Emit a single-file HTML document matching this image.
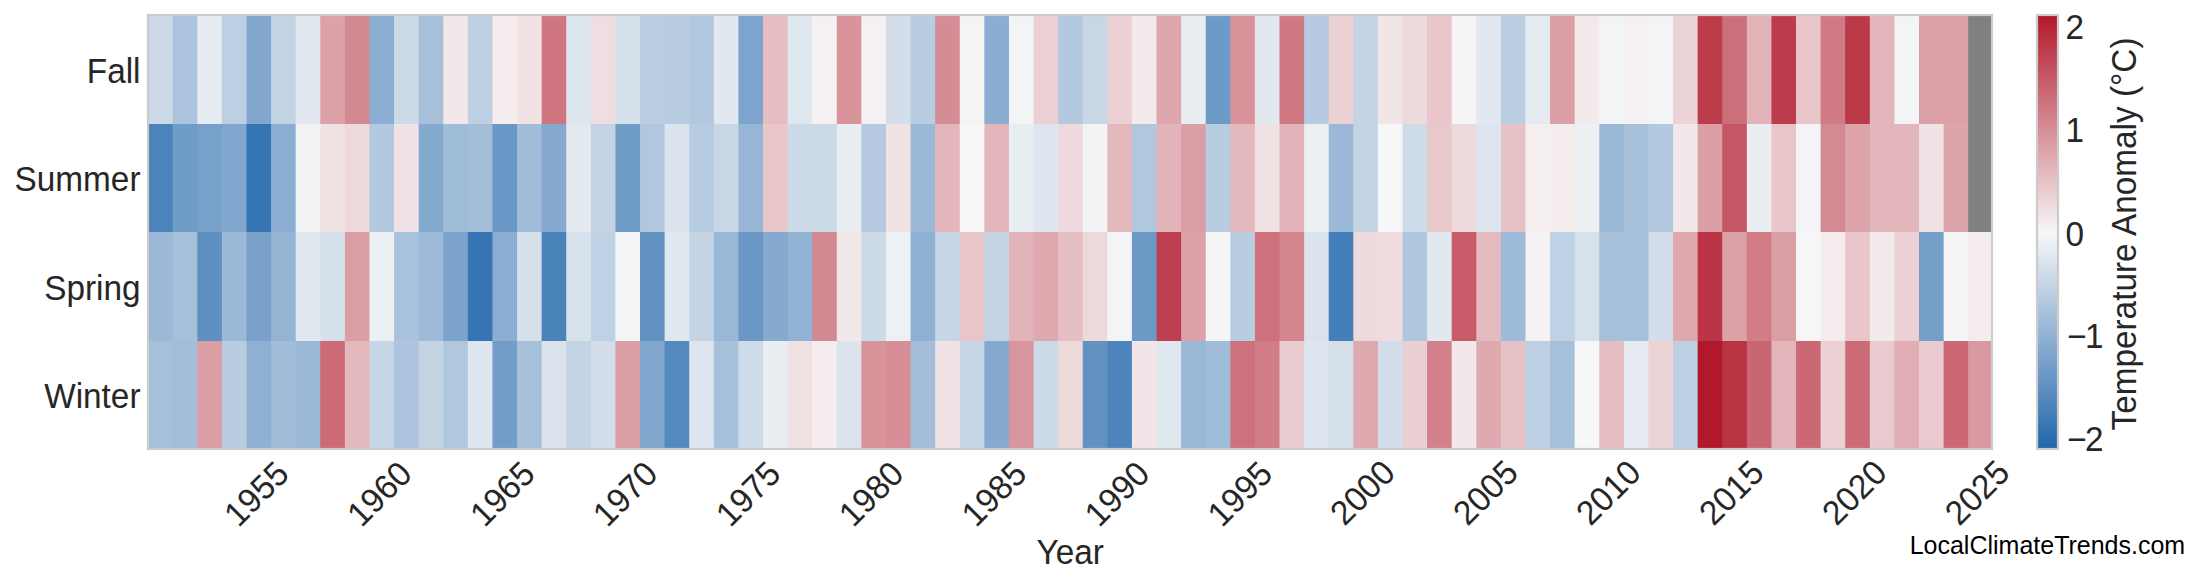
<!DOCTYPE html>
<html lang="en"><head><meta charset="utf-8"><title>Seasonal Temperature Anomaly Heatmap</title>
<style>html,body{margin:0;padding:0;background:#fff;}body{width:2200px;height:585px;overflow:hidden;}svg{display:block;}text{font-family:"Liberation Sans",Arial,sans-serif;font-size:33.33px;fill:#262626;}</style></head><body>
<svg width="2200" height="585" viewBox="0 0 2200 585">
<rect x="0" y="0" width="2200" height="585" fill="#ffffff"/>
<defs><linearGradient id="cb" x1="0" y1="0" x2="0" y2="1"><stop offset="0" stop-color="#b2182b"/><stop offset="0.503" stop-color="#f7f7f7"/><stop offset="1" stop-color="#2166ac"/></linearGradient></defs>
<g>
<rect x="148.10" y="15.00" width="25.60" height="110.00" fill="#ccdae8"/>
<rect x="172.70" y="15.00" width="25.60" height="110.00" fill="#acc4dd"/>
<rect x="197.29" y="15.00" width="25.60" height="110.00" fill="#e6ebf1"/>
<rect x="221.89" y="15.00" width="25.60" height="110.00" fill="#bdd0e3"/>
<rect x="246.48" y="15.00" width="25.60" height="110.00" fill="#81a7ce"/>
<rect x="271.08" y="15.00" width="25.60" height="110.00" fill="#c2d3e4"/>
<rect x="295.68" y="15.00" width="25.60" height="110.00" fill="#e2e8f0"/>
<rect x="320.27" y="15.00" width="25.60" height="110.00" fill="#dda2a9"/>
<rect x="344.87" y="15.00" width="25.60" height="110.00" fill="#d48891"/>
<rect x="369.46" y="15.00" width="25.60" height="110.00" fill="#8caed2"/>
<rect x="394.06" y="15.00" width="25.60" height="110.00" fill="#ccdae8"/>
<rect x="418.66" y="15.00" width="25.60" height="110.00" fill="#a6c0da"/>
<rect x="443.25" y="15.00" width="25.60" height="110.00" fill="#f2e7e9"/>
<rect x="467.85" y="15.00" width="25.60" height="110.00" fill="#bdd0e3"/>
<rect x="492.44" y="15.00" width="25.60" height="110.00" fill="#f4eced"/>
<rect x="517.04" y="15.00" width="25.60" height="110.00" fill="#f1e3e5"/>
<rect x="541.64" y="15.00" width="25.60" height="110.00" fill="#cf7681"/>
<rect x="566.23" y="15.00" width="25.60" height="110.00" fill="#dde6ee"/>
<rect x="590.83" y="15.00" width="25.60" height="110.00" fill="#efdee1"/>
<rect x="615.42" y="15.00" width="25.60" height="110.00" fill="#d5e0eb"/>
<rect x="640.02" y="15.00" width="25.60" height="110.00" fill="#bbcee2"/>
<rect x="664.62" y="15.00" width="25.60" height="110.00" fill="#b7cce0"/>
<rect x="689.21" y="15.00" width="25.60" height="110.00" fill="#b0c7de"/>
<rect x="713.81" y="15.00" width="25.60" height="110.00" fill="#e2e8f0"/>
<rect x="738.40" y="15.00" width="25.60" height="110.00" fill="#7da4cc"/>
<rect x="763.00" y="15.00" width="25.60" height="110.00" fill="#e5bdc2"/>
<rect x="787.60" y="15.00" width="25.60" height="110.00" fill="#dfe7ef"/>
<rect x="812.19" y="15.00" width="25.60" height="110.00" fill="#f5f0f1"/>
<rect x="836.79" y="15.00" width="25.60" height="110.00" fill="#d8939b"/>
<rect x="861.38" y="15.00" width="25.60" height="110.00" fill="#f5f0f1"/>
<rect x="885.98" y="15.00" width="25.60" height="110.00" fill="#d3deea"/>
<rect x="910.58" y="15.00" width="25.60" height="110.00" fill="#b9cde1"/>
<rect x="935.17" y="15.00" width="25.60" height="110.00" fill="#d68c95"/>
<rect x="959.77" y="15.00" width="25.60" height="110.00" fill="#f6f3f3"/>
<rect x="984.36" y="15.00" width="25.60" height="110.00" fill="#8aadd1"/>
<rect x="1008.96" y="15.00" width="25.60" height="110.00" fill="#f3f4f6"/>
<rect x="1033.56" y="15.00" width="25.60" height="110.00" fill="#ebd1d4"/>
<rect x="1058.15" y="15.00" width="25.60" height="110.00" fill="#b3c9df"/>
<rect x="1082.75" y="15.00" width="25.60" height="110.00" fill="#c8d7e6"/>
<rect x="1107.34" y="15.00" width="25.60" height="110.00" fill="#ebd1d4"/>
<rect x="1131.94" y="15.00" width="25.60" height="110.00" fill="#f3eaeb"/>
<rect x="1156.54" y="15.00" width="25.60" height="110.00" fill="#dea7ae"/>
<rect x="1181.13" y="15.00" width="25.60" height="110.00" fill="#e8edf2"/>
<rect x="1205.73" y="15.00" width="25.60" height="110.00" fill="#6e9ac7"/>
<rect x="1230.32" y="15.00" width="25.60" height="110.00" fill="#d8939b"/>
<rect x="1254.92" y="15.00" width="25.60" height="110.00" fill="#e2e8f0"/>
<rect x="1279.52" y="15.00" width="25.60" height="110.00" fill="#d07883"/>
<rect x="1304.11" y="15.00" width="25.60" height="110.00" fill="#b5cae0"/>
<rect x="1328.71" y="15.00" width="25.60" height="110.00" fill="#ebd1d4"/>
<rect x="1353.30" y="15.00" width="25.60" height="110.00" fill="#c4d4e5"/>
<rect x="1377.90" y="15.00" width="25.60" height="110.00" fill="#f1e5e7"/>
<rect x="1402.50" y="15.00" width="25.60" height="110.00" fill="#eedadc"/>
<rect x="1427.09" y="15.00" width="25.60" height="110.00" fill="#e8c6ca"/>
<rect x="1451.69" y="15.00" width="25.60" height="110.00" fill="#f6f5f5"/>
<rect x="1476.28" y="15.00" width="25.60" height="110.00" fill="#e2e8f0"/>
<rect x="1500.88" y="15.00" width="25.60" height="110.00" fill="#bbcee2"/>
<rect x="1525.48" y="15.00" width="25.60" height="110.00" fill="#e6ebf1"/>
<rect x="1550.07" y="15.00" width="25.60" height="110.00" fill="#db9ea5"/>
<rect x="1574.67" y="15.00" width="25.60" height="110.00" fill="#f3eaeb"/>
<rect x="1599.26" y="15.00" width="25.60" height="110.00" fill="#f3f4f6"/>
<rect x="1623.86" y="15.00" width="25.60" height="110.00" fill="#f5f0f1"/>
<rect x="1648.46" y="15.00" width="25.60" height="110.00" fill="#f3f4f6"/>
<rect x="1673.05" y="15.00" width="25.60" height="110.00" fill="#ecd3d6"/>
<rect x="1697.65" y="15.00" width="25.60" height="110.00" fill="#bd3c4c"/>
<rect x="1722.24" y="15.00" width="25.60" height="110.00" fill="#cd6f7b"/>
<rect x="1746.84" y="15.00" width="25.60" height="110.00" fill="#e2b4ba"/>
<rect x="1771.44" y="15.00" width="25.60" height="110.00" fill="#bd3c4c"/>
<rect x="1796.03" y="15.00" width="25.60" height="110.00" fill="#e8c6ca"/>
<rect x="1820.63" y="15.00" width="25.60" height="110.00" fill="#d07a85"/>
<rect x="1845.22" y="15.00" width="25.60" height="110.00" fill="#bc394a"/>
<rect x="1869.82" y="15.00" width="25.60" height="110.00" fill="#e3b6bc"/>
<rect x="1894.42" y="15.00" width="25.60" height="110.00" fill="#f3f4f6"/>
<rect x="1919.01" y="15.00" width="25.60" height="110.00" fill="#dca0a7"/>
<rect x="1943.61" y="15.00" width="25.60" height="110.00" fill="#dca0a7"/>
<rect x="1968.20" y="15.00" width="24.60" height="110.00" fill="#808080"/>
<rect x="148.10" y="124.00" width="25.60" height="109.00" fill="#4c83bb"/>
<rect x="172.70" y="124.00" width="25.60" height="109.00" fill="#709cc8"/>
<rect x="197.29" y="124.00" width="25.60" height="109.00" fill="#77a0ca"/>
<rect x="221.89" y="124.00" width="25.60" height="109.00" fill="#81a7ce"/>
<rect x="246.48" y="124.00" width="25.60" height="109.00" fill="#3674b4"/>
<rect x="271.08" y="124.00" width="25.60" height="109.00" fill="#8caed2"/>
<rect x="295.68" y="124.00" width="25.60" height="109.00" fill="#f1f3f5"/>
<rect x="320.27" y="124.00" width="25.60" height="109.00" fill="#f0e1e3"/>
<rect x="344.87" y="124.00" width="25.60" height="109.00" fill="#edd8da"/>
<rect x="369.46" y="124.00" width="25.60" height="109.00" fill="#b3c9df"/>
<rect x="394.06" y="124.00" width="25.60" height="109.00" fill="#f1e3e5"/>
<rect x="418.66" y="124.00" width="25.60" height="109.00" fill="#83a9ce"/>
<rect x="443.25" y="124.00" width="25.60" height="109.00" fill="#9fbcd8"/>
<rect x="467.85" y="124.00" width="25.60" height="109.00" fill="#a4beda"/>
<rect x="492.44" y="124.00" width="25.60" height="109.00" fill="#6a97c6"/>
<rect x="517.04" y="124.00" width="25.60" height="109.00" fill="#a1bdd9"/>
<rect x="541.64" y="124.00" width="25.60" height="109.00" fill="#86aacf"/>
<rect x="566.23" y="124.00" width="25.60" height="109.00" fill="#e4eaf0"/>
<rect x="590.83" y="124.00" width="25.60" height="109.00" fill="#c4d4e5"/>
<rect x="615.42" y="124.00" width="25.60" height="109.00" fill="#709cc8"/>
<rect x="640.02" y="124.00" width="25.60" height="109.00" fill="#b0c7de"/>
<rect x="664.62" y="124.00" width="25.60" height="109.00" fill="#dbe4ed"/>
<rect x="689.21" y="124.00" width="25.60" height="109.00" fill="#b7cce0"/>
<rect x="713.81" y="124.00" width="25.60" height="109.00" fill="#c8d7e6"/>
<rect x="738.40" y="124.00" width="25.60" height="109.00" fill="#97b6d5"/>
<rect x="763.00" y="124.00" width="25.60" height="109.00" fill="#e8c6ca"/>
<rect x="787.60" y="124.00" width="25.60" height="109.00" fill="#ccdae8"/>
<rect x="812.19" y="124.00" width="25.60" height="109.00" fill="#ccdae8"/>
<rect x="836.79" y="124.00" width="25.60" height="109.00" fill="#e8edf2"/>
<rect x="861.38" y="124.00" width="25.60" height="109.00" fill="#b5cae0"/>
<rect x="885.98" y="124.00" width="25.60" height="109.00" fill="#f1e3e5"/>
<rect x="910.58" y="124.00" width="25.60" height="109.00" fill="#9bb9d7"/>
<rect x="935.17" y="124.00" width="25.60" height="109.00" fill="#e3b6bc"/>
<rect x="959.77" y="124.00" width="25.60" height="109.00" fill="#f7f7f7"/>
<rect x="984.36" y="124.00" width="25.60" height="109.00" fill="#e3b6bc"/>
<rect x="1008.96" y="124.00" width="25.60" height="109.00" fill="#e8edf2"/>
<rect x="1033.56" y="124.00" width="25.60" height="109.00" fill="#dde6ee"/>
<rect x="1058.15" y="124.00" width="25.60" height="109.00" fill="#eedadc"/>
<rect x="1082.75" y="124.00" width="25.60" height="109.00" fill="#f1f3f5"/>
<rect x="1107.34" y="124.00" width="25.60" height="109.00" fill="#e4b9be"/>
<rect x="1131.94" y="124.00" width="25.60" height="109.00" fill="#b0c7de"/>
<rect x="1156.54" y="124.00" width="25.60" height="109.00" fill="#e2b4ba"/>
<rect x="1181.13" y="124.00" width="25.60" height="109.00" fill="#db9ea5"/>
<rect x="1205.73" y="124.00" width="25.60" height="109.00" fill="#b9cde1"/>
<rect x="1230.32" y="124.00" width="25.60" height="109.00" fill="#e4b9be"/>
<rect x="1254.92" y="124.00" width="25.60" height="109.00" fill="#f0e1e3"/>
<rect x="1279.52" y="124.00" width="25.60" height="109.00" fill="#e2b4ba"/>
<rect x="1304.11" y="124.00" width="25.60" height="109.00" fill="#ecf0f3"/>
<rect x="1328.71" y="124.00" width="25.60" height="109.00" fill="#9bb9d7"/>
<rect x="1353.30" y="124.00" width="25.60" height="109.00" fill="#c4d4e5"/>
<rect x="1377.90" y="124.00" width="25.60" height="109.00" fill="#f7f7f7"/>
<rect x="1402.50" y="124.00" width="25.60" height="109.00" fill="#cedbe9"/>
<rect x="1427.09" y="124.00" width="25.60" height="109.00" fill="#e9c8cc"/>
<rect x="1451.69" y="124.00" width="25.60" height="109.00" fill="#edd8da"/>
<rect x="1476.28" y="124.00" width="25.60" height="109.00" fill="#dde6ee"/>
<rect x="1500.88" y="124.00" width="25.60" height="109.00" fill="#e6c1c6"/>
<rect x="1525.48" y="124.00" width="25.60" height="109.00" fill="#f4eeef"/>
<rect x="1550.07" y="124.00" width="25.60" height="109.00" fill="#f4eced"/>
<rect x="1574.67" y="124.00" width="25.60" height="109.00" fill="#ecf0f3"/>
<rect x="1599.26" y="124.00" width="25.60" height="109.00" fill="#99b7d6"/>
<rect x="1623.86" y="124.00" width="25.60" height="109.00" fill="#a6c0da"/>
<rect x="1648.46" y="124.00" width="25.60" height="109.00" fill="#b3c9df"/>
<rect x="1673.05" y="124.00" width="25.60" height="109.00" fill="#f2e7e9"/>
<rect x="1697.65" y="124.00" width="25.60" height="109.00" fill="#db9ea5"/>
<rect x="1722.24" y="124.00" width="25.60" height="109.00" fill="#c55664"/>
<rect x="1746.84" y="124.00" width="25.60" height="109.00" fill="#eaeef2"/>
<rect x="1771.44" y="124.00" width="25.60" height="109.00" fill="#e8c6ca"/>
<rect x="1796.03" y="124.00" width="25.60" height="109.00" fill="#f3f4f6"/>
<rect x="1820.63" y="124.00" width="25.60" height="109.00" fill="#d58a93"/>
<rect x="1845.22" y="124.00" width="25.60" height="109.00" fill="#dda4ac"/>
<rect x="1869.82" y="124.00" width="25.60" height="109.00" fill="#e3b6bc"/>
<rect x="1894.42" y="124.00" width="25.60" height="109.00" fill="#e3b6bc"/>
<rect x="1919.01" y="124.00" width="25.60" height="109.00" fill="#f1e3e5"/>
<rect x="1943.61" y="124.00" width="25.60" height="109.00" fill="#dda4ac"/>
<rect x="1968.20" y="124.00" width="24.60" height="109.00" fill="#808080"/>
<rect x="148.10" y="232.00" width="25.60" height="110.00" fill="#9bb9d7"/>
<rect x="172.70" y="232.00" width="25.60" height="110.00" fill="#a6c0da"/>
<rect x="197.29" y="232.00" width="25.60" height="110.00" fill="#5f90c2"/>
<rect x="221.89" y="232.00" width="25.60" height="110.00" fill="#9bb9d7"/>
<rect x="246.48" y="232.00" width="25.60" height="110.00" fill="#79a1cb"/>
<rect x="271.08" y="232.00" width="25.60" height="110.00" fill="#95b4d4"/>
<rect x="295.68" y="232.00" width="25.60" height="110.00" fill="#e2e8f0"/>
<rect x="320.27" y="232.00" width="25.60" height="110.00" fill="#d5e0eb"/>
<rect x="344.87" y="232.00" width="25.60" height="110.00" fill="#db9ea5"/>
<rect x="369.46" y="232.00" width="25.60" height="110.00" fill="#ecf0f3"/>
<rect x="394.06" y="232.00" width="25.60" height="110.00" fill="#aac3dc"/>
<rect x="418.66" y="232.00" width="25.60" height="110.00" fill="#9dbad8"/>
<rect x="443.25" y="232.00" width="25.60" height="110.00" fill="#7ba3cc"/>
<rect x="467.85" y="232.00" width="25.60" height="110.00" fill="#3674b4"/>
<rect x="492.44" y="232.00" width="25.60" height="110.00" fill="#8caed2"/>
<rect x="517.04" y="232.00" width="25.60" height="110.00" fill="#d5e0eb"/>
<rect x="541.64" y="232.00" width="25.60" height="110.00" fill="#4a82ba"/>
<rect x="566.23" y="232.00" width="25.60" height="110.00" fill="#d7e1ec"/>
<rect x="590.83" y="232.00" width="25.60" height="110.00" fill="#bfd1e4"/>
<rect x="615.42" y="232.00" width="25.60" height="110.00" fill="#f3f4f6"/>
<rect x="640.02" y="232.00" width="25.60" height="110.00" fill="#6192c2"/>
<rect x="664.62" y="232.00" width="25.60" height="110.00" fill="#dfe7ef"/>
<rect x="689.21" y="232.00" width="25.60" height="110.00" fill="#c4d4e5"/>
<rect x="713.81" y="232.00" width="25.60" height="110.00" fill="#99b7d6"/>
<rect x="738.40" y="232.00" width="25.60" height="110.00" fill="#6a97c6"/>
<rect x="763.00" y="232.00" width="25.60" height="110.00" fill="#86aacf"/>
<rect x="787.60" y="232.00" width="25.60" height="110.00" fill="#92b3d4"/>
<rect x="812.19" y="232.00" width="25.60" height="110.00" fill="#d48891"/>
<rect x="836.79" y="232.00" width="25.60" height="110.00" fill="#f2e7e9"/>
<rect x="861.38" y="232.00" width="25.60" height="110.00" fill="#ccdae8"/>
<rect x="885.98" y="232.00" width="25.60" height="110.00" fill="#eef1f4"/>
<rect x="910.58" y="232.00" width="25.60" height="110.00" fill="#8eb0d2"/>
<rect x="935.17" y="232.00" width="25.60" height="110.00" fill="#c6d6e6"/>
<rect x="959.77" y="232.00" width="25.60" height="110.00" fill="#e8c6ca"/>
<rect x="984.36" y="232.00" width="25.60" height="110.00" fill="#c2d3e4"/>
<rect x="1008.96" y="232.00" width="25.60" height="110.00" fill="#e2b4ba"/>
<rect x="1033.56" y="232.00" width="25.60" height="110.00" fill="#dfa9b0"/>
<rect x="1058.15" y="232.00" width="25.60" height="110.00" fill="#e6bfc4"/>
<rect x="1082.75" y="232.00" width="25.60" height="110.00" fill="#edd8da"/>
<rect x="1107.34" y="232.00" width="25.60" height="110.00" fill="#f3f4f6"/>
<rect x="1131.94" y="232.00" width="25.60" height="110.00" fill="#6c99c6"/>
<rect x="1156.54" y="232.00" width="25.60" height="110.00" fill="#be4050"/>
<rect x="1181.13" y="232.00" width="25.60" height="110.00" fill="#dca0a7"/>
<rect x="1205.73" y="232.00" width="25.60" height="110.00" fill="#f6f5f5"/>
<rect x="1230.32" y="232.00" width="25.60" height="110.00" fill="#b9cde1"/>
<rect x="1254.92" y="232.00" width="25.60" height="110.00" fill="#ce717d"/>
<rect x="1279.52" y="232.00" width="25.60" height="110.00" fill="#d4858f"/>
<rect x="1304.11" y="232.00" width="25.60" height="110.00" fill="#dbe4ed"/>
<rect x="1328.71" y="232.00" width="25.60" height="110.00" fill="#457fb9"/>
<rect x="1353.30" y="232.00" width="25.60" height="110.00" fill="#eedadc"/>
<rect x="1377.90" y="232.00" width="25.60" height="110.00" fill="#efdcdf"/>
<rect x="1402.50" y="232.00" width="25.60" height="110.00" fill="#aec6de"/>
<rect x="1427.09" y="232.00" width="25.60" height="110.00" fill="#e2e8f0"/>
<rect x="1451.69" y="232.00" width="25.60" height="110.00" fill="#c75b68"/>
<rect x="1476.28" y="232.00" width="25.60" height="110.00" fill="#e4bbc0"/>
<rect x="1500.88" y="232.00" width="25.60" height="110.00" fill="#9dbad8"/>
<rect x="1525.48" y="232.00" width="25.60" height="110.00" fill="#f5f0f1"/>
<rect x="1550.07" y="232.00" width="25.60" height="110.00" fill="#bfd1e4"/>
<rect x="1574.67" y="232.00" width="25.60" height="110.00" fill="#d7e1ec"/>
<rect x="1599.26" y="232.00" width="25.60" height="110.00" fill="#a6c0da"/>
<rect x="1623.86" y="232.00" width="25.60" height="110.00" fill="#a6c0da"/>
<rect x="1648.46" y="232.00" width="25.60" height="110.00" fill="#d3deea"/>
<rect x="1673.05" y="232.00" width="25.60" height="110.00" fill="#dfa9b0"/>
<rect x="1697.65" y="232.00" width="25.60" height="110.00" fill="#bb3546"/>
<rect x="1722.24" y="232.00" width="25.60" height="110.00" fill="#dca0a7"/>
<rect x="1746.84" y="232.00" width="25.60" height="110.00" fill="#d17c87"/>
<rect x="1771.44" y="232.00" width="25.60" height="110.00" fill="#db9ea5"/>
<rect x="1796.03" y="232.00" width="25.60" height="110.00" fill="#f7f7f7"/>
<rect x="1820.63" y="232.00" width="25.60" height="110.00" fill="#f4eced"/>
<rect x="1845.22" y="232.00" width="25.60" height="110.00" fill="#e8c6ca"/>
<rect x="1869.82" y="232.00" width="25.60" height="110.00" fill="#f3eaeb"/>
<rect x="1894.42" y="232.00" width="25.60" height="110.00" fill="#ebd1d4"/>
<rect x="1919.01" y="232.00" width="25.60" height="110.00" fill="#749fc9"/>
<rect x="1943.61" y="232.00" width="25.60" height="110.00" fill="#f6f5f5"/>
<rect x="1968.20" y="232.00" width="24.60" height="110.00" fill="#f4eced"/>
<rect x="148.10" y="341.00" width="25.60" height="108.00" fill="#a6c0da"/>
<rect x="172.70" y="341.00" width="25.60" height="108.00" fill="#a4beda"/>
<rect x="197.29" y="341.00" width="25.60" height="108.00" fill="#db9ea5"/>
<rect x="221.89" y="341.00" width="25.60" height="108.00" fill="#b9cde1"/>
<rect x="246.48" y="341.00" width="25.60" height="108.00" fill="#8eb0d2"/>
<rect x="271.08" y="341.00" width="25.60" height="108.00" fill="#a1bdd9"/>
<rect x="295.68" y="341.00" width="25.60" height="108.00" fill="#9bb9d7"/>
<rect x="320.27" y="341.00" width="25.60" height="108.00" fill="#cc6b76"/>
<rect x="344.87" y="341.00" width="25.60" height="108.00" fill="#e4b9be"/>
<rect x="369.46" y="341.00" width="25.60" height="108.00" fill="#c6d6e6"/>
<rect x="394.06" y="341.00" width="25.60" height="108.00" fill="#acc4dd"/>
<rect x="418.66" y="341.00" width="25.60" height="108.00" fill="#c4d4e5"/>
<rect x="443.25" y="341.00" width="25.60" height="108.00" fill="#b0c7de"/>
<rect x="467.85" y="341.00" width="25.60" height="108.00" fill="#dde6ee"/>
<rect x="492.44" y="341.00" width="25.60" height="108.00" fill="#729dc8"/>
<rect x="517.04" y="341.00" width="25.60" height="108.00" fill="#a6c0da"/>
<rect x="541.64" y="341.00" width="25.60" height="108.00" fill="#dbe4ed"/>
<rect x="566.23" y="341.00" width="25.60" height="108.00" fill="#c4d4e5"/>
<rect x="590.83" y="341.00" width="25.60" height="108.00" fill="#d3deea"/>
<rect x="615.42" y="341.00" width="25.60" height="108.00" fill="#db9ea5"/>
<rect x="640.02" y="341.00" width="25.60" height="108.00" fill="#81a7ce"/>
<rect x="664.62" y="341.00" width="25.60" height="108.00" fill="#5489be"/>
<rect x="689.21" y="341.00" width="25.60" height="108.00" fill="#dde6ee"/>
<rect x="713.81" y="341.00" width="25.60" height="108.00" fill="#a8c1db"/>
<rect x="738.40" y="341.00" width="25.60" height="108.00" fill="#cedbe9"/>
<rect x="763.00" y="341.00" width="25.60" height="108.00" fill="#eaeef2"/>
<rect x="787.60" y="341.00" width="25.60" height="108.00" fill="#f0e1e3"/>
<rect x="812.19" y="341.00" width="25.60" height="108.00" fill="#f4eced"/>
<rect x="836.79" y="341.00" width="25.60" height="108.00" fill="#dbe4ed"/>
<rect x="861.38" y="341.00" width="25.60" height="108.00" fill="#d8939b"/>
<rect x="885.98" y="341.00" width="25.60" height="108.00" fill="#d78e97"/>
<rect x="910.58" y="341.00" width="25.60" height="108.00" fill="#a4beda"/>
<rect x="935.17" y="341.00" width="25.60" height="108.00" fill="#f1e3e5"/>
<rect x="959.77" y="341.00" width="25.60" height="108.00" fill="#c6d6e6"/>
<rect x="984.36" y="341.00" width="25.60" height="108.00" fill="#86aacf"/>
<rect x="1008.96" y="341.00" width="25.60" height="108.00" fill="#d9959d"/>
<rect x="1033.56" y="341.00" width="25.60" height="108.00" fill="#ccdae8"/>
<rect x="1058.15" y="341.00" width="25.60" height="108.00" fill="#edd8da"/>
<rect x="1082.75" y="341.00" width="25.60" height="108.00" fill="#6192c2"/>
<rect x="1107.34" y="341.00" width="25.60" height="108.00" fill="#4e84bc"/>
<rect x="1131.94" y="341.00" width="25.60" height="108.00" fill="#f1e5e7"/>
<rect x="1156.54" y="341.00" width="25.60" height="108.00" fill="#dfe7ef"/>
<rect x="1181.13" y="341.00" width="25.60" height="108.00" fill="#99b7d6"/>
<rect x="1205.73" y="341.00" width="25.60" height="108.00" fill="#9fbcd8"/>
<rect x="1230.32" y="341.00" width="25.60" height="108.00" fill="#ce717d"/>
<rect x="1254.92" y="341.00" width="25.60" height="108.00" fill="#d17c87"/>
<rect x="1279.52" y="341.00" width="25.60" height="108.00" fill="#eacdd0"/>
<rect x="1304.11" y="341.00" width="25.60" height="108.00" fill="#dde6ee"/>
<rect x="1328.71" y="341.00" width="25.60" height="108.00" fill="#d5e0eb"/>
<rect x="1353.30" y="341.00" width="25.60" height="108.00" fill="#dfa9b0"/>
<rect x="1377.90" y="341.00" width="25.60" height="108.00" fill="#d3deea"/>
<rect x="1402.50" y="341.00" width="25.60" height="108.00" fill="#ebcfd2"/>
<rect x="1427.09" y="341.00" width="25.60" height="108.00" fill="#d2818b"/>
<rect x="1451.69" y="341.00" width="25.60" height="108.00" fill="#f2e7e9"/>
<rect x="1476.28" y="341.00" width="25.60" height="108.00" fill="#dfa9b0"/>
<rect x="1500.88" y="341.00" width="25.60" height="108.00" fill="#e6c1c6"/>
<rect x="1525.48" y="341.00" width="25.60" height="108.00" fill="#bdd0e3"/>
<rect x="1550.07" y="341.00" width="25.60" height="108.00" fill="#a6c0da"/>
<rect x="1574.67" y="341.00" width="25.60" height="108.00" fill="#f7f7f7"/>
<rect x="1599.26" y="341.00" width="25.60" height="108.00" fill="#e5bdc2"/>
<rect x="1623.86" y="341.00" width="25.60" height="108.00" fill="#e6ebf1"/>
<rect x="1648.46" y="341.00" width="25.60" height="108.00" fill="#ecd3d6"/>
<rect x="1673.05" y="341.00" width="25.60" height="108.00" fill="#bdd0e3"/>
<rect x="1697.65" y="341.00" width="25.60" height="108.00" fill="#b2182b"/>
<rect x="1722.24" y="341.00" width="25.60" height="108.00" fill="#ba3343"/>
<rect x="1746.84" y="341.00" width="25.60" height="108.00" fill="#ca6672"/>
<rect x="1771.44" y="341.00" width="25.60" height="108.00" fill="#e3b6bc"/>
<rect x="1796.03" y="341.00" width="25.60" height="108.00" fill="#cb6874"/>
<rect x="1820.63" y="341.00" width="25.60" height="108.00" fill="#ebd1d4"/>
<rect x="1845.22" y="341.00" width="25.60" height="108.00" fill="#cc6b76"/>
<rect x="1869.82" y="341.00" width="25.60" height="108.00" fill="#e9cace"/>
<rect x="1894.42" y="341.00" width="25.60" height="108.00" fill="#e0adb4"/>
<rect x="1919.01" y="341.00" width="25.60" height="108.00" fill="#e9cace"/>
<rect x="1943.61" y="341.00" width="25.60" height="108.00" fill="#cb6874"/>
<rect x="1968.20" y="341.00" width="24.60" height="108.00" fill="#da99a1"/>
</g>
<rect x="148.0" y="15.0" width="1844.0" height="434.0" fill="none" stroke="#cccccc" stroke-width="2.2"/>
<rect x="2037" y="15" width="21" height="434" fill="url(#cb)" stroke="#cccccc" stroke-width="2.2"/>
<text transform="translate(140.5 82.8) scale(1 1.03)" text-anchor="end">Fall</text>
<text transform="translate(140.5 191.3) scale(1 1.03)" text-anchor="end">Summer</text>
<text transform="translate(140.5 299.9) scale(1 1.03)" text-anchor="end">Spring</text>
<text transform="translate(140.5 408.4) scale(1 1.03)" text-anchor="end">Winter</text>
<text transform="translate(256.1 493.5) rotate(-45) scale(1 1.03)" x="0" y="11.8" text-anchor="middle">1955</text>
<text transform="translate(379.1 493.5) rotate(-45) scale(1 1.03)" x="0" y="11.8" text-anchor="middle">1960</text>
<text transform="translate(502.0 493.5) rotate(-45) scale(1 1.03)" x="0" y="11.8" text-anchor="middle">1965</text>
<text transform="translate(624.9 493.5) rotate(-45) scale(1 1.03)" x="0" y="11.8" text-anchor="middle">1970</text>
<text transform="translate(747.9 493.5) rotate(-45) scale(1 1.03)" x="0" y="11.8" text-anchor="middle">1975</text>
<text transform="translate(870.8 493.5) rotate(-45) scale(1 1.03)" x="0" y="11.8" text-anchor="middle">1980</text>
<text transform="translate(993.7 493.5) rotate(-45) scale(1 1.03)" x="0" y="11.8" text-anchor="middle">1985</text>
<text transform="translate(1116.7 493.5) rotate(-45) scale(1 1.03)" x="0" y="11.8" text-anchor="middle">1990</text>
<text transform="translate(1239.6 493.5) rotate(-45) scale(1 1.03)" x="0" y="11.8" text-anchor="middle">1995</text>
<text transform="translate(1362.2 492.3) rotate(-45) scale(1 1.03)" x="0" y="11.8" text-anchor="middle">2000</text>
<text transform="translate(1485.2 492.3) rotate(-45) scale(1 1.03)" x="0" y="11.8" text-anchor="middle">2005</text>
<text transform="translate(1608.1 492.3) rotate(-45) scale(1 1.03)" x="0" y="11.8" text-anchor="middle">2010</text>
<text transform="translate(1731.0 492.3) rotate(-45) scale(1 1.03)" x="0" y="11.8" text-anchor="middle">2015</text>
<text transform="translate(1854.0 492.3) rotate(-45) scale(1 1.03)" x="0" y="11.8" text-anchor="middle">2020</text>
<text transform="translate(1976.9 492.3) rotate(-45) scale(1 1.03)" x="0" y="11.8" text-anchor="middle">2025</text>
<text transform="translate(1070.2 564.3) scale(1 1.03)" text-anchor="middle">Year</text>
<text transform="translate(2065.5 38.8) scale(1 1.03)">2</text>
<text transform="translate(2065.5 141.7) scale(1 1.03)">1</text>
<text transform="translate(2065.5 245.6) scale(1 1.03)">0</text>
<text transform="translate(2065.5 348.2) scale(1 1.03)"><tspan dx="1.6">−</tspan><tspan dx="-1.6">1</tspan></text>
<text transform="translate(2065.5 451.2) scale(1 1.03)"><tspan dx="1.6">−</tspan><tspan dx="-1.6">2</tspan></text>
<text transform="translate(2136.1 234.0) rotate(-90) scale(1 1.03)" x="0" y="0" text-anchor="middle">Temperature Anomaly (°C)</text>
<text x="2185.2" y="554.3" text-anchor="end" style="font-size:25px;fill:#000000">LocalClimateTrends.com</text>
</svg></body></html>
